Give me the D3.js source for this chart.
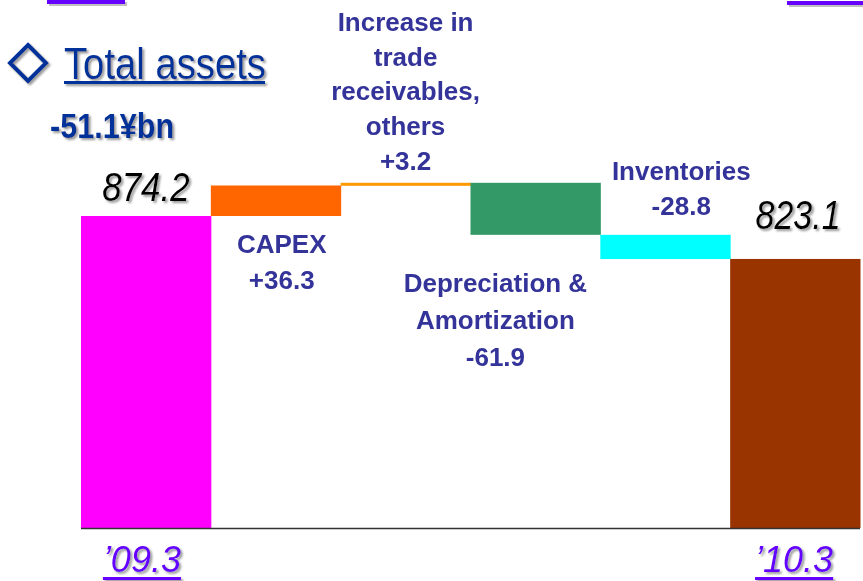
<!DOCTYPE html>
<meta charset="utf-8">
<head>
    <title>Total assets</title>
    <script src="https://cdn.jsdelivr.net/npm/d3@7"></script>
    <style>
        body { margin: 0; background: white; }
        svg { display: block; }
        .narrow { font-family: "Liberation Sans", Arial, sans-serif; }
        .lbl { font-family: "Liberation Sans", Arial, sans-serif; font-size: 26px; font-weight: bold; fill: #333399; }
    </style>
</head>
<body>
<script>
    // data
    const startValue = 874.2
    const endValue = 823.1
    const totalChange = "-51.1¥bn"
    const periodLabels = ["\u201909.3", "\u201910.3"]
    const stepNames = [["CAPEX"], ["Increase in", "trade", "receivables,", "others"], ["Depreciation &", "Amortization"], ["Inventories"]]
    const stepValues = [36.3, 3.2, -61.9, -28.8]
    const barColors = ["#ff00ff", "#ff6600", "#ff9900", "#339966", "#00ffff", "#993300"]

    const w = 863, h = 581
    const squeeze = 0.85   // no Arial Narrow here, so squeeze Liberation Sans

    let svg = d3.select("body").append("svg")
        .attr("width", w)
        .attr("height", h)

    let defs = svg.append("defs")
    defs.append("filter").attr("id", "shadow")
        .attr("x", "-10%").attr("y", "-10%").attr("width", "130%").attr("height", "140%")
        .append("feDropShadow")
        .attr("dx", 2).attr("dy", 2).attr("stdDeviation", 0.8)
        .attr("flood-color", "#9a9a9a").attr("flood-opacity", 1)

    // build waterfall rows
    const floorValue = 503
    let rows = []
    rows.push({key: "start", from: floorValue, to: startValue})
    let run = startValue
    stepValues.forEach(function (v, i) {
        rows.push({key: "s" + i, from: run, to: run + v})
        run = run + v
    })
    rows.push({key: "end", from: floorValue, to: endValue})

    const x = d3.scaleBand().domain(rows.map(d => d.key)).range([81, 860]).padding(0)
    const y = d3.scaleLinear().domain([floorValue, startValue]).range([528, 216])

    svg.append("g").selectAll("rect")
        .data(rows)
        .enter()
        .append("rect")
        .attr("x", d => x(d.key))
        .attr("width", x.bandwidth() + 0.5)
        .attr("y", d => y(Math.max(d.from, d.to)))
        .attr("height", d => Math.max(3, Math.abs(y(d.from) - y(d.to))))
        .attr("fill", (d, i) => barColors[i])

    // baseline
    svg.append("line")
        .attr("x1", 81).attr("x2", 860)
        .attr("y1", 528.5).attr("y2", 528.5)
        .attr("stroke", "#333").attr("stroke-width", 1.5)

    // stubs of underlines from above
    svg.append("rect").attr("x", 49).attr("y", 2).attr("width", 78).attr("height", 4).attr("fill", "#c0c0c0")
    svg.append("rect").attr("x", 47).attr("y", 0).attr("width", 78).attr("height", 4).attr("fill", "#6600ff")
    svg.append("rect").attr("x", 789).attr("y", 3).attr("width", 74).attr("height", 4).attr("fill", "#c0c0c0")
    svg.append("rect").attr("x", 787).attr("y", 1).attr("width", 76).attr("height", 4).attr("fill", "#6600ff")

    function narrowText(parent, tx, ty, size, anchor) {
        return parent.append("g")
            .attr("transform", "translate(" + tx + "," + ty + ") scale(" + squeeze + ",1)")
            .append("text")
            .attr("class", "narrow")
            .attr("text-anchor", anchor || "start")
            .attr("font-size", size)
    }

    // title
    let title = svg.append("g").attr("filter", "url(#shadow)")
    title.append("path")
        .attr("d", "M28,45 L46,63 L28,81 L10,63 Z")
        .attr("fill", "none").attr("stroke", "#003399").attr("stroke-width", 4)
    narrowText(title, 64, 79, 45).attr("fill", "#003399").text("Total assets")
    title.append("rect").attr("x", 64).attr("y", 81).attr("width", 201).attr("height", 3).attr("fill", "#003399")

    let sub = svg.append("g").attr("filter", "url(#shadow)")
    narrowText(sub, 50, 138, 36).attr("fill", "#003399").attr("font-weight", "bold").text(totalChange)

    // totals
    let tot = svg.append("g").attr("filter", "url(#shadow)")
    narrowText(tot, x("start") + x.bandwidth() / 2, 201, 41, "middle")
        .attr("font-style", "italic").text(startValue.toFixed(1))
    narrowText(tot, x("end") + x.bandwidth() / 2 + 3, 229, 40, "middle")
        .attr("font-style", "italic").text(endValue.toFixed(1))

    // step labels: horizontal offset, first baseline and line spacing for each
    const labelPos = [{dx: 6, y: 253, lh: 36}, {dx: 0, y: 31, lh: 34.7}, {dx: -40, y: 292, lh: 37}, {dx: 16, y: 180, lh: 35}]
    const fmt = d3.format("+.1f")
    stepNames.forEach(function (lines, i) {
        let p = labelPos[i]
        let cx = x("s" + i) + x.bandwidth() / 2 + p.dx
        let t = svg.append("text").attr("class", "lbl").attr("text-anchor", "middle")
            .attr("fill", i == 2 ? "#003399" : "#333399")
        lines.concat([fmt(stepValues[i]).replace("\u2212", "-")]).forEach(function (s, j) {
            t.append("tspan").attr("x", cx).attr("y", p.y + j * p.lh).text(s)
        })
    })

    // period labels
    ;["start", "end"].forEach(function (k, i) {
        let cx = x(k) + x.bandwidth() / 2 - 4 + i * 3
        let g = svg.append("g").attr("filter", "url(#shadow)")
        let t = g.append("text")
            .attr("x", cx).attr("y", 572)
            .attr("text-anchor", "middle")
            .attr("font-family", "Liberation Sans, Arial, sans-serif")
            .attr("font-size", 36).attr("font-style", "italic")
            .attr("fill", "#6600ff")
            .text(periodLabels[i])
        let bb = t.node().getBBox()
        g.append("rect").attr("x", bb.x).attr("y", 577).attr("width", bb.width).attr("height", 3).attr("fill", "#6600ff")
    })
</script>
</body>
</html>
